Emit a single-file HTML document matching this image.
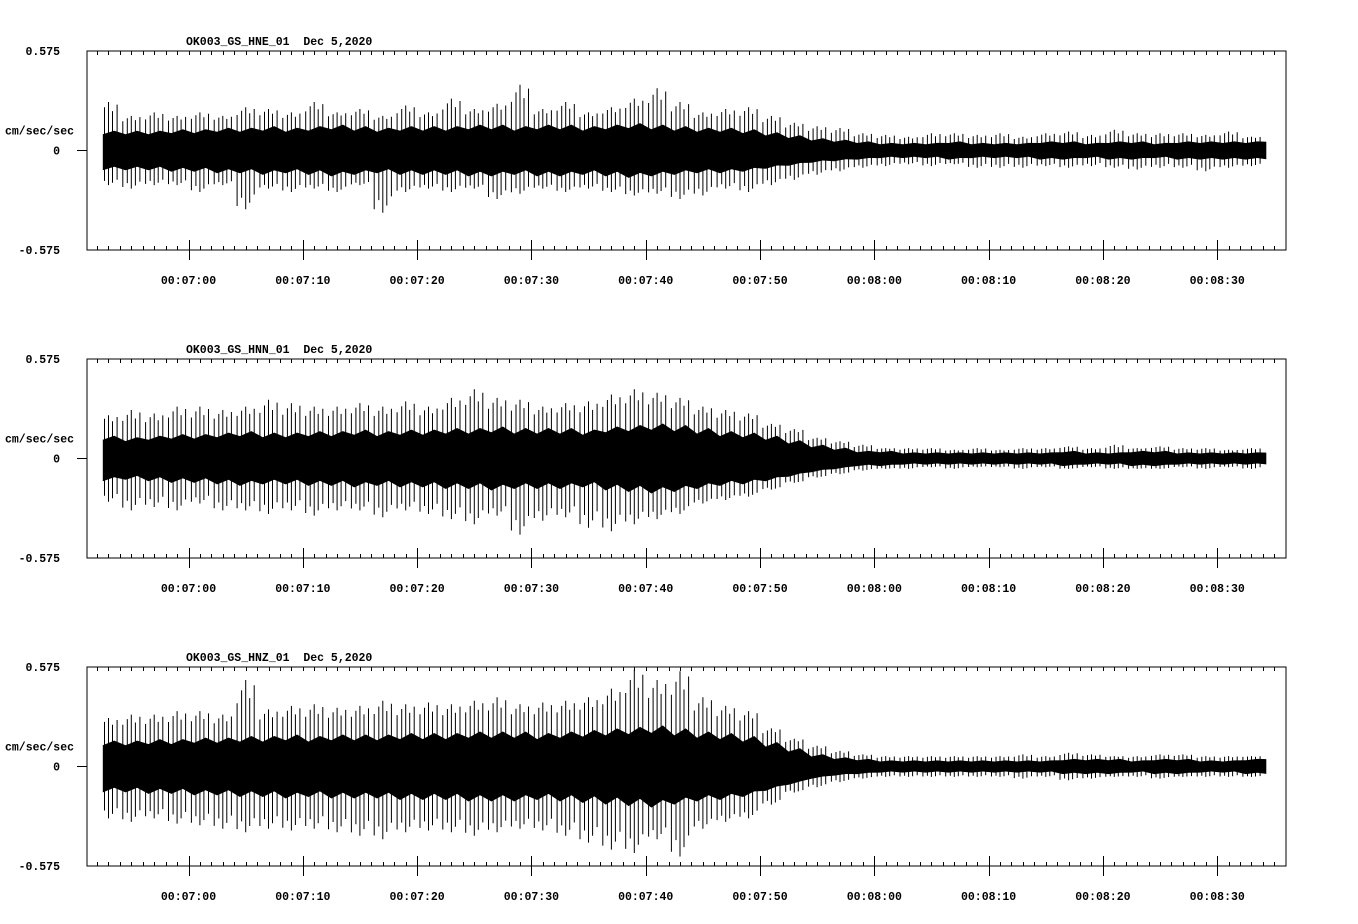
<!DOCTYPE html>
<html><head><meta charset="utf-8"><style>
html,body{margin:0;padding:0;background:#fff;}
svg{display:block;}
text{font-family:"Liberation Mono",monospace;font-weight:bold;font-size:11.5px;fill:#000;}
</style></head><body>
<svg id="chart" width="1358" height="924" viewBox="0 0 1358 924"></svg>
<script>
// time (s after 00:07:00) of bins, 2 s apart
const binTimes = Array.from({length:51},(_,i)=>-7+2*i);
const traceStart = -7.5, traceEnd = 94.3;
const channelNames = ["OK003_GS_HNE_01","OK003_GS_HNN_01","OK003_GS_HNZ_01"];
const dateLabel = "Dec 5,2020";
const tickLabels = ["00:07:00","00:07:10","00:07:20","00:07:30","00:07:40","00:07:50","00:08:00","00:08:10","00:08:20","00:08:30"];
const tickSeconds = [0,10,20,30,40,50,60,70,80,90];
const yMax = 0.575;

const hneCore = [0.13,0.13,0.13,0.14, 0.14,0.15,0.15,0.16,0.15,0.16,0.17,0.16,0.15,0.16, 0.16,0.16,0.17,0.17,0.16,0.17,0.17,0.16,0.17,0.18,0.17,0.16,0.15,0.15,0.14, 0.12,0.10,0.08,0.07,0.06, 0.05,0.05,0.05,0.06,0.05,0.05,0.05,0.06,0.06,0.05,0.06,0.06,0.05,0.06,0.06,0.06,0.06];
const hneUp = [0.28,0.2,0.22,0.2, 0.22,0.2,0.25,0.24,0.22,0.28,0.22,0.24,0.2,0.26, 0.22,0.3,0.24,0.27,0.38,0.24,0.28,0.22,0.25,0.3,0.36,0.28,0.22,0.24,0.25, 0.2,0.16,0.14,0.13,0.1, 0.09,0.08,0.1,0.1,0.09,0.1,0.08,0.1,0.11,0.09,0.12,0.1,0.1,0.1,0.09,0.11,0.08];
const hneDown = [0.2,0.22,0.2,0.2, 0.24,0.2,0.34,0.22,0.24,0.22,0.24,0.2,0.36,0.24, 0.22,0.24,0.22,0.28,0.25,0.22,0.24,0.22,0.24,0.26,0.25,0.28,0.26,0.22,0.24, 0.2,0.17,0.14,0.12,0.1, 0.09,0.08,0.09,0.08,0.1,0.1,0.1,0.09,0.1,0.09,0.1,0.11,0.1,0.1,0.12,0.1,0.09];

const hnnCore = [0.15,0.14,0.15,0.16, 0.16,0.17,0.18,0.17,0.17,0.18,0.18,0.19,0.18,0.19, 0.19,0.2,0.2,0.21,0.2,0.2,0.2,0.19,0.21,0.22,0.23,0.22,0.2,0.18,0.17, 0.15,0.12,0.09,0.07,0.05, 0.05,0.04,0.04,0.04,0.04,0.04,0.04,0.04,0.05,0.04,0.04,0.05,0.05,0.04,0.04,0.04,0.04];
const hnnUp = [0.25,0.28,0.26,0.3, 0.3,0.28,0.3,0.34,0.32,0.3,0.3,0.32,0.3,0.33, 0.3,0.35,0.4,0.35,0.34,0.3,0.32,0.33,0.37,0.4,0.38,0.35,0.3,0.28,0.26, 0.2,0.17,0.12,0.1,0.08, 0.06,0.06,0.06,0.05,0.06,0.05,0.06,0.06,0.07,0.06,0.08,0.06,0.07,0.06,0.06,0.05,0.06];
const hnnDown = [0.25,0.3,0.28,0.3, 0.26,0.3,0.3,0.32,0.3,0.33,0.3,0.3,0.34,0.3, 0.32,0.35,0.38,0.33,0.44,0.36,0.34,0.4,0.42,0.38,0.35,0.32,0.26,0.24,0.22, 0.18,0.14,0.11,0.09,0.07, 0.06,0.06,0.05,0.06,0.05,0.05,0.06,0.05,0.06,0.05,0.06,0.06,0.06,0.05,0.06,0.05,0.06];

const hnzCore = [0.17,0.17,0.18,0.18, 0.19,0.19,0.2,0.2,0.21,0.2,0.21,0.21,0.21,0.22, 0.22,0.22,0.23,0.23,0.23,0.22,0.23,0.24,0.25,0.26,0.27,0.25,0.23,0.22,0.2, 0.16,0.12,0.08,0.06,0.05, 0.04,0.04,0.04,0.04,0.04,0.04,0.04,0.04,0.05,0.05,0.05,0.04,0.05,0.05,0.04,0.04,0.05];
const hnzUp = [0.28,0.3,0.3,0.32, 0.32,0.3,0.5,0.33,0.35,0.36,0.34,0.35,0.38,0.36, 0.37,0.36,0.38,0.4,0.36,0.37,0.38,0.4,0.45,0.56,0.5,0.55,0.4,0.35,0.32, 0.22,0.16,0.12,0.09,0.07, 0.06,0.06,0.06,0.06,0.06,0.06,0.07,0.06,0.08,0.07,0.06,0.06,0.07,0.07,0.06,0.06,0.06];
const hnzDown = [0.3,0.32,0.3,0.33, 0.34,0.36,0.38,0.36,0.37,0.36,0.38,0.4,0.42,0.38, 0.37,0.38,0.4,0.38,0.36,0.37,0.4,0.44,0.48,0.5,0.42,0.52,0.36,0.32,0.3, 0.22,0.15,0.12,0.09,0.07, 0.06,0.06,0.06,0.06,0.06,0.06,0.07,0.06,0.08,0.07,0.06,0.06,0.07,0.06,0.06,0.06,0.06];

const channelCore = [hneCore,hnnCore,hnzCore];
const channelUp = [hneUp,hnnUp,hnzUp];
const channelDown = [hneDown,hnnDown,hnzDown];

const svg = document.getElementById('chart');
const NS = 'http://www.w3.org/2000/svg';
const X0 = 87, X1 = 1286, panelTops = [51,359,667], panelH = 199;
function xScale(t){ return 188.5 + 11.43*t; }
function yScale(v,top){ return top + panelH/2 - v/yMax*(panelH/2); }
function mk(tag, attrs, parent){
  const e = document.createElementNS(NS, tag);
  for (const k in attrs) e.setAttribute(k, attrs[k]);
  (parent||svg).appendChild(e);
  return e;
}
function txt(s,x,y,anchor,parent){
  const e = mk('text',{x:x,y:y,'text-anchor':anchor||'start'},parent);
  e.textContent = s;
  return e;
}

for (let p=0;p<3;p++){
  const top = panelTops[p], bot = top+panelH, mid = top+panelH/2;
  const g = mk('g',{});
  
  

  const title = txt(channelNames[p]+'  '+dateLabel, 186, top-6, 'start', g);
  title.setAttribute('style','white-space:pre');
  title.setAttribute('xml:space','preserve');
  
  

  const frame = mk('path',{d:`M${X0},${top}H${X1}V${bot}H${X0}Z M${X0-10},${mid}H${X0}`,fill:'none',stroke:'#000','stroke-width':1.2,'shape-rendering':'crispEdges'},g);
  
  

  let td = '';
  for (let s=-8;s<=95;s++){
    const x = Math.round(xScale(s))+0.5;
    if (x<=X0+1||x>=X1) continue;
    td += `M${x},${top}V${top+4}`;
    if (s%10===0) td += `M${x},${bot-10}V${bot+10}`;
    else td += `M${x},${bot-4}V${bot}`;
  }
  const ticks = mk('path',{d:td,stroke:'#000','stroke-width':1,fill:'none','shape-rendering':'crispEdges'},g);
  
  

  tickLabels.forEach((lab,i)=>{
    const t = txt(lab, xScale(tickSeconds[i]), bot+34, 'middle', g);
    
    
  });
  const ytop = txt('0.575',60,top+4,'end',g);
  
  
  const yz = txt('0',60,mid+4,'end',g);
  
  
  const ybot = txt('-0.575',60,bot+4,'end',g);
  
  
  const yt = txt('cm/sec/sec',5,mid-16,'start',g);
  
  

  // waveform
  const core = channelCore[p], up = channelUp[p], dn = channelDown[p];
  const pts = [];
  pts.push([xScale(traceStart), yScale(core[0]*0.85,top)]);
  for (let i=0;i<binTimes.length;i++){
    pts.push([xScale(binTimes[i]-0.5), yScale(core[i]*0.72,top)]);
    pts.push([xScale(binTimes[i]+0.5), yScale(core[i]*0.88,top)]);
  }
  pts.push([xScale(traceEnd), yScale(core[core.length-1]*0.85,top)]);
  pts.push([xScale(traceEnd), yScale(-core[core.length-1]*0.85,top)]);
  for (let i=binTimes.length-1;i>=0;i--){
    pts.push([xScale(binTimes[i]+0.5), yScale(-core[i]*0.72,top)]);
    pts.push([xScale(binTimes[i]-0.5), yScale(-core[i]*0.88,top)]);
  }
  pts.push([xScale(traceStart), yScale(-core[0]*0.85,top)]);
  const poly = mk('polygon',{points:pts.map(q=>q[0].toFixed(1)+','+q[1].toFixed(1)).join(' '),fill:'#000'},g);
  
  

  let sd = '';
  for (let i=0;i<binTimes.length;i++){
    const t = binTimes[i];
    if (t<traceStart||t>traceEnd) continue;
    const x = xScale(t).toFixed(1);
    sd += `M${x},${yScale(up[i],top).toFixed(1)}V${yScale(-dn[i],top).toFixed(1)}`;
    const off = [-0.75,-0.35,0.35,0.75];
    const fr = [0.55,0.8,0.65,0.9];
    off.forEach((o,k)=>{
      const tx = t+o;
      if (tx<traceStart||tx>traceEnd) return;
      const a = core[i]+(up[i]-core[i])*fr[k], b = core[i]+(dn[i]-core[i])*fr[3-k];
      sd += `M${xScale(tx).toFixed(1)},${yScale(a,top).toFixed(1)}V${yScale(-b,top).toFixed(1)}`;
    });
  }
  const spikes = mk('path',{d:sd,stroke:'#000','stroke-width':1,fill:'none'},g);
  
  
}
</script>
</body></html>
